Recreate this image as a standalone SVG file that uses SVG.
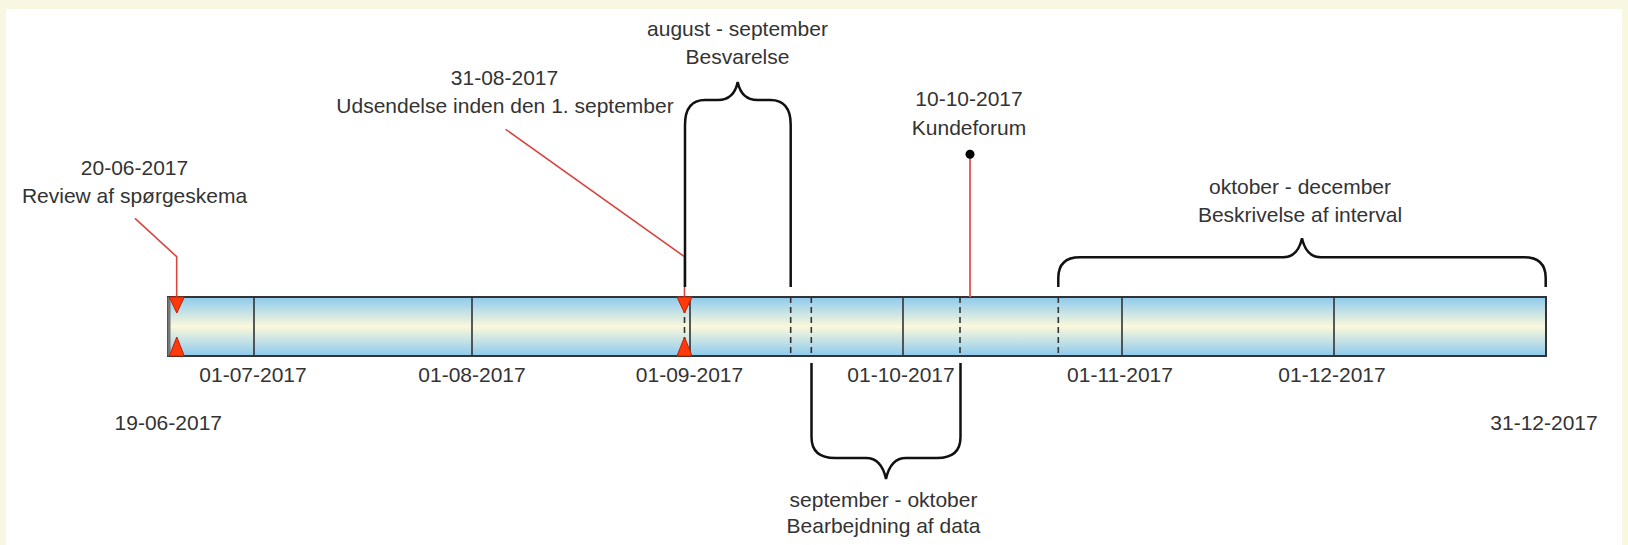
<svg xmlns="http://www.w3.org/2000/svg" width="1628" height="545" viewBox="0 0 1628 545">
<defs>
<linearGradient id="barGrad" x1="0" y1="0" x2="0" y2="1">
<stop offset="0" stop-color="#8ccaee"/>
<stop offset="0.5" stop-color="#fbf8dc"/>
<stop offset="1" stop-color="#8ccaee"/>
</linearGradient>
</defs>
<style>
text{font-family:"Liberation Sans",Arial,sans-serif;font-size:21px;fill:#333;text-anchor:middle}
.tick{stroke:#333;stroke-width:1.6}
.dash{stroke:#333;stroke-width:1.6;stroke-dasharray:6 4}
.brace{fill:none;stroke:#111;stroke-width:2.5}
.leader{fill:none;stroke:#d9463e;stroke-width:1.6}
.mark{fill:#ff3a0a;stroke:#c41a00;stroke-width:1}
</style>
<rect x="0" y="0" width="1628" height="545" fill="#f7f7e2"/>
<rect x="6" y="9" width="1616" height="540" fill="#ffffff"/>

<g id="timeline">
<rect x="168" y="297" width="1378" height="59" fill="url(#barGrad)" stroke="#333" stroke-width="2"/>
<line x1="169" y1="297" x2="169" y2="356" stroke="#777" stroke-width="3"/>
<line class="tick" x1="254" y1="297" x2="254" y2="356"/>
<line class="tick" x1="472" y1="297" x2="472" y2="356"/>
<line class="tick" x1="690" y1="297" x2="690" y2="356"/>
<line class="tick" x1="903" y1="297" x2="903" y2="356"/>
<line class="tick" x1="1122" y1="297" x2="1122" y2="356"/>
<line class="tick" x1="1334" y1="297" x2="1334" y2="356"/>
<line class="dash" x1="684.5" y1="297" x2="684.5" y2="356"/>
<line class="dash" x1="790.7" y1="297" x2="790.7" y2="356"/>
<line class="dash" x1="811.3" y1="297" x2="811.3" y2="356"/>
<line class="dash" x1="960" y1="297" x2="960" y2="356"/>
<line class="dash" x1="1058.3" y1="297" x2="1058.3" y2="356" stroke="#556"/>
<text x="253" y="381.7">01-07-2017</text>
<text x="472" y="381.7">01-08-2017</text>
<text x="689.5" y="381.7">01-09-2017</text>
<text x="901" y="381.7">01-10-2017</text>
<text x="1120" y="381.7">01-11-2017</text>
<text x="1332" y="381.7">01-12-2017</text>
<text x="168.3" y="430">19-06-2017</text>
<text x="1544" y="429.5">31-12-2017</text>
</g>

<g id="connectors">
<path class="leader" d="M135,218.3 L176.7,256.7 V300"/>
<path class="leader" d="M505.7,129.3 L684.5,256.7 V300"/>
<line x1="970" y1="154.3" x2="970" y2="297" stroke="#e06464" stroke-width="2"/>
<circle cx="970" cy="154.3" r="4.5" fill="#000"/>
</g>

<g id="node-review">
<text x="134.5" y="175">20-06-2017</text>
<text x="134.5" y="202.7">Review af spørgeskema</text>
<polygon class="mark" points="169.3,297 184.3,297 176.8,313"/>
<polygon class="mark" points="169.3,356 184.3,356 176.8,337"/>
</g>

<g id="node-udsendelse">
<text x="504.5" y="85">31-08-2017</text>
<text x="505" y="113.3">Udsendelse inden den 1. september</text>
</g>

<g id="node-besvarelse">
<text x="737.5" y="35.7">august - september</text>
<text x="737.5" y="64.3">Besvarelse</text>
<path class="brace" d="M685,287 V125 C685,108 692,100 705,100 H718 C728,100 735,95 737.7,82 C740.4,95 747.4,100 757.4,100 H770.4 C783.4,100 790.7,108 790.7,125 V287"/>
</g>

<g id="node-udsendelse-marks">
<polygon class="mark" points="677,297 692,297 684.5,313"/>
<polygon class="mark" points="677,356 692,356 684.5,337"/>
</g>

<g id="node-kundeforum">
<text x="969" y="106">10-10-2017</text>
<text x="969" y="135">Kundeforum</text>
</g>

<g id="node-bearbejdning">
<path class="brace" d="M811.5,363 V437 C811.5,452 820,458 835,458 H866 C876,458 883,465 886,479 C889,465 896,458 906,458 H937 C952,458 960.5,452 960.5,437 V363"/>
<text x="883.5" y="506.7">september - oktober</text>
<text x="883.5" y="532.7">Bearbejdning af data</text>
</g>

<g id="node-beskrivelse">
<text x="1300" y="194">oktober - december</text>
<text x="1300" y="221.7">Beskrivelse af interval</text>
<path class="brace" d="M1058.3,287 V278 C1058.3,264 1066,257.3 1080,257.3 H1283 C1292,257.3 1299,252 1302,238.3 C1305,252 1312,257.3 1321,257.3 H1524 C1538,257.3 1545.7,264 1545.7,278 V287"/>
</g>
</svg>
